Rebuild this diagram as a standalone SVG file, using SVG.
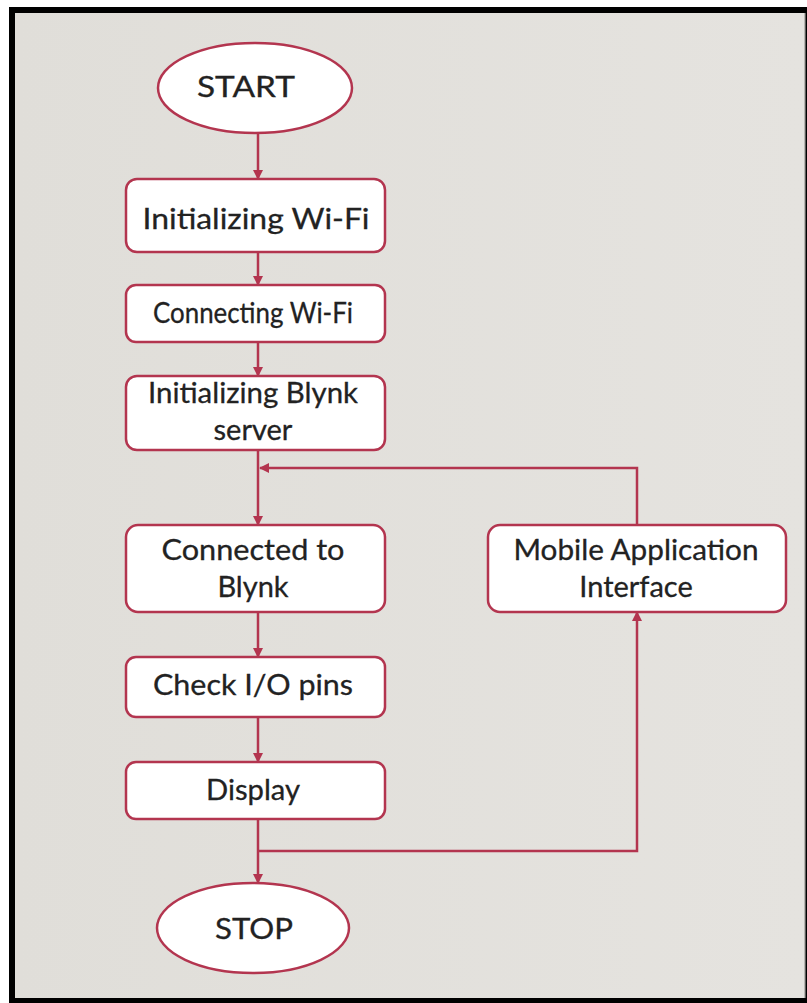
<svg xmlns="http://www.w3.org/2000/svg" width="807" height="1003" viewBox="0 0 807 1003">
  <style>
    .node { fill: #ffffff; stroke: #b3354f; stroke-width: 2.5; }
    .lbl { font-family: Lato, "Open Sans", "Liberation Sans", sans-serif; fill: #222222; stroke: #222222; stroke-width: 0.3; text-anchor: middle; font-size: 29px; }
    .conn { fill: none; stroke: #b3354f; stroke-width: 2.5; }
  </style>
  <defs>
    <marker id="arr" viewBox="0 0 10 10" refX="9" refY="5" markerWidth="10" markerHeight="10" markerUnits="userSpaceOnUse" orient="auto">
      <path d="M0,0 L10,5 L0,10 Z" fill="#b3354f"/>
    </marker>
    <linearGradient id="bg" x1="0" y1="0" x2="1" y2="0">
      <stop offset="0" stop-color="#e0ded9"/>
      <stop offset="1" stop-color="#e5e3df"/>
    </linearGradient>
  </defs>
  <rect x="0" y="0" width="807" height="1003" fill="#ffffff"/>
  <rect x="9" y="7" width="798" height="996" fill="#000000"/>
  <rect x="15" y="13" width="790" height="985" fill="url(#bg)"/>
  <rect x="804" y="13" width="1.5" height="985" fill="#b8b6b2"/>

  <g id="connectors">
    <path class="conn" d="M258,133 V179" marker-end="url(#arr)"/>
    <path class="conn" d="M258,252 V285" marker-end="url(#arr)"/>
    <path class="conn" d="M258,342 V376" marker-end="url(#arr)"/>
    <path class="conn" d="M258,450 V525" marker-end="url(#arr)"/>
    <path class="conn" d="M637,525 V468 H260" marker-end="url(#arr)"/>
    <path class="conn" d="M258,612 V657" marker-end="url(#arr)"/>
    <path class="conn" d="M258,717 V762" marker-end="url(#arr)"/>
    <path class="conn" d="M258,819 V883" marker-end="url(#arr)"/>
    <path class="conn" d="M258,851 H637 V612" marker-end="url(#arr)"/>
  </g>

  <g id="start">
    <ellipse class="node" cx="255" cy="88" rx="97" ry="45"/>
    <text class="lbl" x="246" y="97" font-size="34" textLength="98" lengthAdjust="spacingAndGlyphs">START</text>
  </g>
  <g id="init-wifi">
    <rect class="node" x="126" y="179" width="259" height="73" rx="11"/>
    <text class="lbl" x="256" y="229" font-size="32" textLength="227" lengthAdjust="spacingAndGlyphs">Initializing Wi-Fi</text>
  </g>
  <g id="connecting-wifi">
    <rect class="node" x="126" y="285" width="259" height="57" rx="10"/>
    <text class="lbl" x="253" y="323" font-size="25" textLength="200" lengthAdjust="spacingAndGlyphs">Connecting Wi-Fi</text>
  </g>
  <g id="init-blynk">
    <rect class="node" x="126" y="376" width="259" height="74" rx="11"/>
    <text class="lbl" x="253" y="403" textLength="210" lengthAdjust="spacingAndGlyphs">Initializing Blynk</text>
    <text class="lbl" x="253" y="440">server</text>
  </g>
  <g id="connected-blynk">
    <rect class="node" x="126" y="525" width="259" height="87" rx="12"/>
    <text class="lbl" x="253" y="560" textLength="183" lengthAdjust="spacingAndGlyphs">Connected to</text>
    <text class="lbl" x="253" y="597">Blynk</text>
  </g>
  <g id="mobile-app">
    <rect class="node" x="488" y="525" width="298" height="87" rx="12"/>
    <text class="lbl" x="636" y="560" textLength="245" lengthAdjust="spacingAndGlyphs">Mobile Application</text>
    <text class="lbl" x="636" y="597">Interface</text>
  </g>
  <g id="check-io">
    <rect class="node" x="126" y="657" width="259" height="60" rx="10"/>
    <text class="lbl" x="253" y="695" textLength="200" lengthAdjust="spacingAndGlyphs">Check I/O pins</text>
  </g>
  <g id="display">
    <rect class="node" x="126" y="762" width="259" height="57" rx="10"/>
    <text class="lbl" x="253" y="800" textLength="94" lengthAdjust="spacingAndGlyphs">Display</text>
  </g>
  <g id="stop">
    <ellipse class="node" cx="253" cy="928" rx="96" ry="45"/>
    <text class="lbl" x="254" y="939" font-size="31" textLength="78" lengthAdjust="spacingAndGlyphs">STOP</text>
  </g>
</svg>
